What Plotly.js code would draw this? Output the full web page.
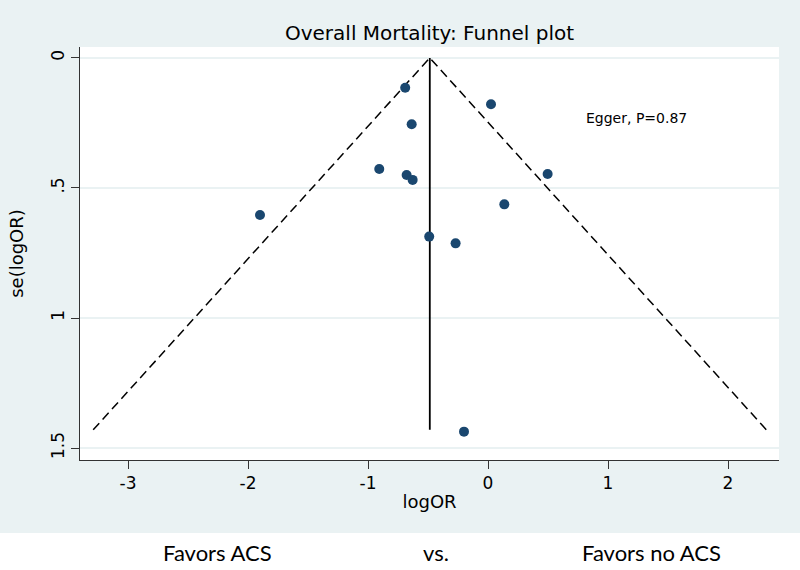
<!DOCTYPE html>
<html>
<head>
<meta charset="utf-8">
<script src="https://cdn.plot.ly/plotly-3.0.1.min.js"></script>
<style>
html,body{margin:0;padding:0;background:#fff;}
#chart{width:800px;height:570px;}
</style>
</head>
<body>
<div id="chart"></div>
<script>
// Study estimates
var logOR = [-0.69, 0.025, -0.636, -0.906, -0.678, -0.628, 0.497, 0.136, -1.90, -0.49, -0.27, -0.20];
var seLogOR = [0.115, 0.178, 0.255, 0.427, 0.450, 0.469, 0.446, 0.563, 0.604, 0.687, 0.713, 1.437];

// Funnel (pseudo 95% limits) and pooled estimate line
var funnelX = [-3.29, -0.485, 2.32];
var funnelY = [1.43, 0, 1.43];
var pooledX = [-0.485, -0.485];
var pooledY = [0, 1.43];

var yTickVals = [0, 0.5, 1, 1.5];
var yTickText = ["0", ".5", "1", "1.5"];
var xTickVals = [-3, -2, -1, 0, 1, 2];
var xTickText = ["-3", "-2", "-1", "0", "1", "2"];

var bottomLabels = ["Favors ACS", "vs.", "Favors no ACS"];
var bottomLabelX = [0.197, 0.509, 0.817];

var bg = '#eaf2f3';
var font = 'DejaVu Sans, Arial, sans-serif';

var traces = [
  {x: funnelX, y: funnelY, mode: 'lines', type: 'scatter',
   line: {color: '#000', width: 1.5, dash: '9px,5px'}, hoverinfo: 'skip'},
  {x: pooledX, y: pooledY, mode: 'lines', type: 'scatter',
   line: {color: '#000', width: 1.8}, hoverinfo: 'skip'},
  {x: logOR, y: seLogOR, mode: 'markers', type: 'scatter',
   marker: {color: '#1a476f', size: 10}}
];

var annotations = [
  {x: 0.80, y: 0.23, xref: 'x', yref: 'y', text: 'Egger, P=0.87', showarrow: false,
   xanchor: 'left', yanchor: 'middle', font: {family: font, size: 14, color: '#000'}}
];
for (var i = 0; i < bottomLabels.length; i++) {
  annotations.push({x: bottomLabelX[i], y: -0.2228, xref: 'paper', yref: 'paper',
    text: bottomLabels[i], showarrow: false, xanchor: 'center', yanchor: 'middle',
    font: {family: 'Lato, Open Sans, sans-serif', size: 22, color: '#000'}});
}

var layout = {
  width: 800, height: 570,
  margin: {l: 80, r: 21, t: 47, b: 110},
  paper_bgcolor: bg,
  plot_bgcolor: '#ffffff',
  showlegend: false,
  font: {family: font, color: '#000'},
  title: {text: 'Overall Mortality: Funnel plot', x: 0.5, xref: 'paper',
          y: 1 - 33/570, yref: 'container', yanchor: 'middle',
          font: {family: font, size: 20, color: '#000'}},
  xaxis: {range: [-3.4, 2.425], tickvals: xTickVals, ticktext: xTickText,
          showgrid: false, zeroline: false, showline: true, linecolor: '#333', linewidth: 1,
          ticks: 'outside', ticklen: 8, tickcolor: '#333', tickfont: {family: font, size: 17},
          title: {text: 'logOR', font: {family: font, size: 18}, standoff: 2}},
  yaxis: {range: [1.546, -0.042], tickvals: yTickVals, ticktext: yTickText, tickangle: -90,
          showgrid: true, gridcolor: bg, gridwidth: 1.2, zeroline: false,
          showline: true, linecolor: '#333', linewidth: 1,
          ticks: 'outside', ticklen: 8, tickcolor: '#333', tickfont: {family: font, size: 17},
          title: {text: 'se(logOR)', font: {family: font, size: 18}, standoff: 19}},
  shapes: [
    {type: 'rect', xref: 'paper', yref: 'paper', x0: -0.2, x1: 1.1, y0: -0.3, y1: -0.1768,
     fillcolor: '#ffffff', line: {width: 0}, layer: 'below'}
  ],
  annotations: annotations
};

Plotly.newPlot('chart', traces, layout, {displayModeBar: false, staticPlot: true});
</script>
</body>
</html>
